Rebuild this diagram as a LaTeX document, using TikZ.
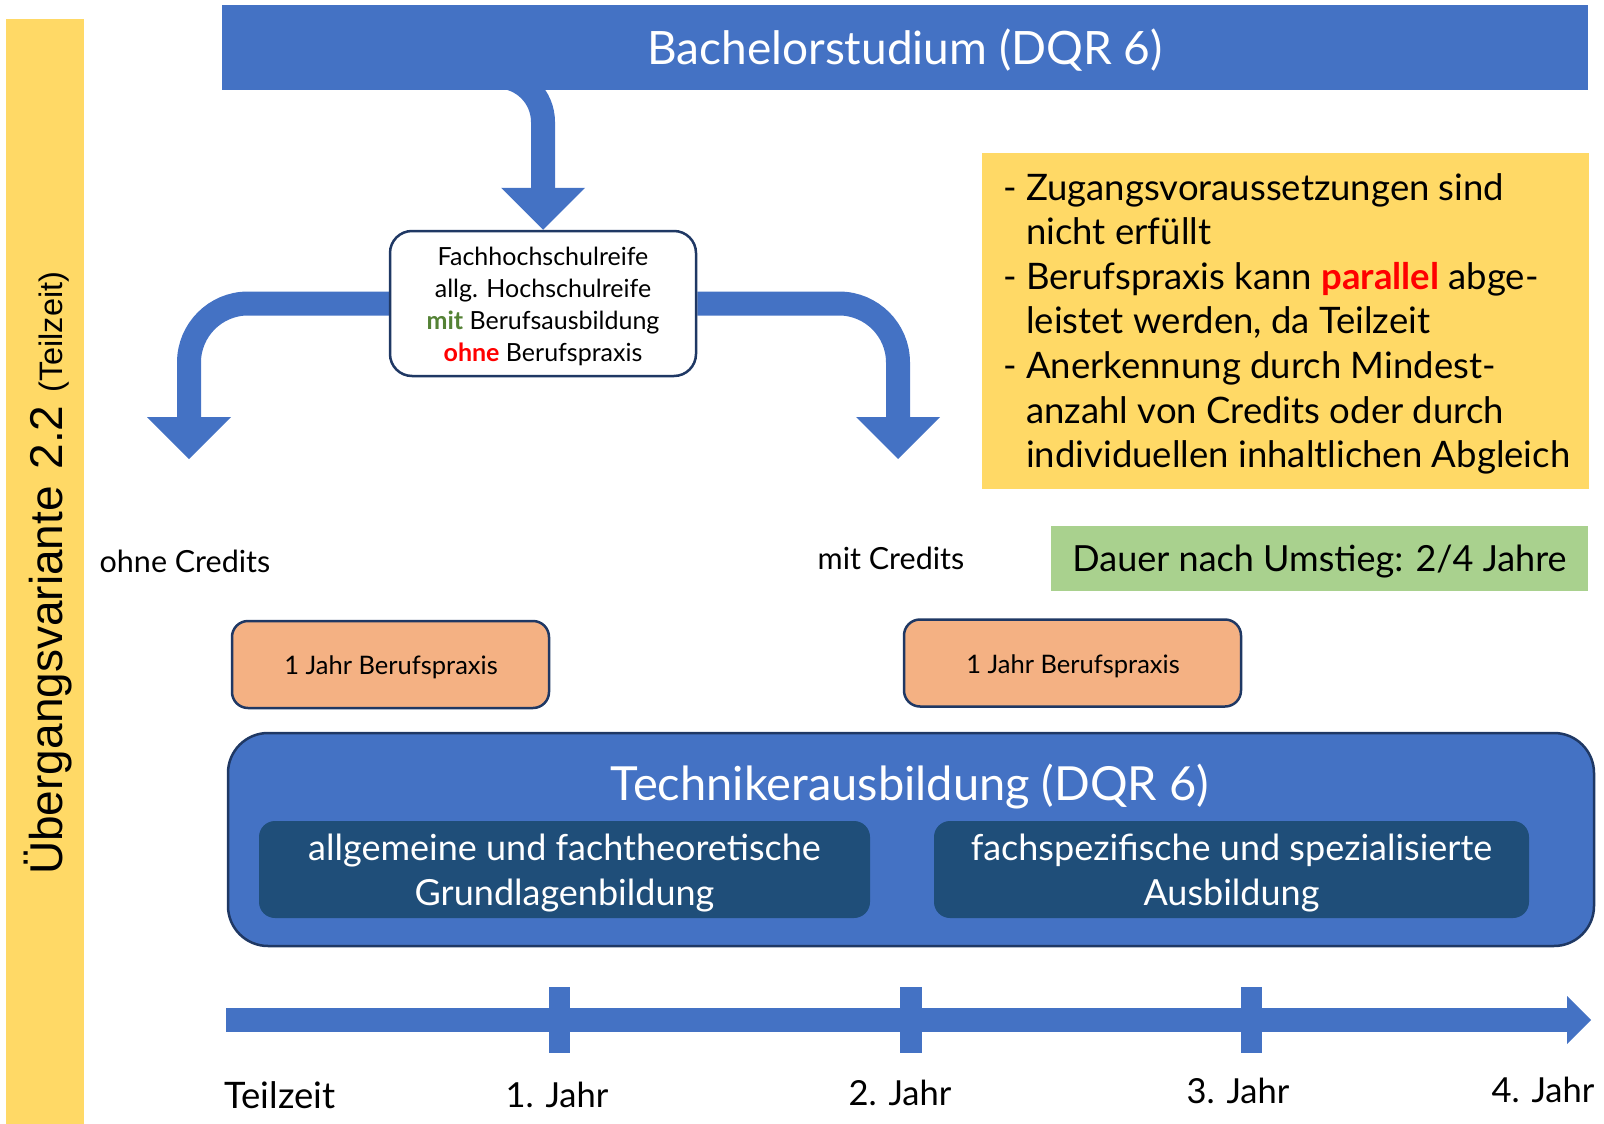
\documentclass[tikz,border=0pt]{standalone}
\usepackage{fontspec}
\setmainfont{Lato}
\newfontfamily\arialf{Liberation Sans}
\usetikzlibrary{calc}
\pgfdeclarelayer{bg}
\pgfsetlayers{bg,main}
\definecolor{obl}{HTML}{4472C4}
\definecolor{oyel}{HTML}{FFD966}
\definecolor{ogrn}{HTML}{A9D18E}
\definecolor{oorg}{HTML}{F4B183}
\definecolor{odark}{HTML}{1F4E79}
\definecolor{onavy}{HTML}{1F3864}
\definecolor{tgreen}{HTML}{548235}
\definecolor{tred}{HTML}{FF0000}
\newcommand\fs[2]{\fontsize{#1}{#2}\selectfont}
\newcommand\myhead[1]{\fill[obl] ($(#1)+(-42,-42)$) -- ($(#1)+(42,-42)$) -- (#1) -- cycle;}
\begin{document}
\begin{tikzpicture}[x=1pt,y=-1pt,
  band/.style={draw=obl,line width=24pt},
  bluebar/.style={fill=obl,inner sep=0pt,text=white},
  navybox/.style={draw=onavy,line width=2.5pt,inner sep=0pt},
  fhrbox/.style={navybox,fill=white,rounded corners=22pt,minimum width=306pt,minimum height=145pt},
  orangebox/.style={navybox,fill=oorg,rounded corners=16pt,minimum width=#1,minimum height=87pt},
  darkbox/.style={fill=odark,rounded corners=16pt,inner sep=0pt,minimum height=97pt},
  plain/.style={inner sep=0pt},
  year/.style={inner sep=0pt,font=\fs{34.5}{38}},
  tick/.style={fill=obl}
]
\useasboundingbox (0,0) rectangle (1604,1124);

% side bar
\fill[oyel] (6,19) rectangle (84,1124);
\node[plain,rotate=90,anchor=base west,font=\arialf\fs{46}{52}] (variant) at (62.5,875)
  {Übergangsvariante\hspace{4pt} 2.2 {\fs{32.5}{36}(Teilzeit)}};

% coordinates for arrows
\coordinate (tstart) at (440,76.5);
\coordinate (lend) at (189,459);
\coordinate (rend) at (898,459);

% box
\node[fhrbox] (fhr) at (543,303.5) {};
\node[plain,align=center,font=\fs{25}{32}] (fhrtext) at (543,306.5)
  {Fachhochschulreife\\ allg. Hochschulreife\\ {\bfseries\color{tgreen}mit} Berufsausbildung\\ {\bfseries\color{tred}ohne} Berufspraxis};

% arrows (behind)
\begin{pgfonlayer}{bg}
\coordinate (fhrtop) at (fhr.north);
\draw[band,rounded corners=45.5pt] (tstart) -| ($(fhrtop)+(0,-40)$);
\myhead{fhrtop}
\draw[band,rounded corners=59pt] (fhr.west) -| ($(lend)+(0,-40)$);
\myhead{lend}
\draw[band,rounded corners=59pt] (fhr.east) -| ($(rend)+(0,-40)$);
\myhead{rend}
\end{pgfonlayer}

% top bar
\node[bluebar,minimum width=1366pt,minimum height=85pt] (bach) at (905,47.5) {};
\node[plain,text=white,font=\fs{46}{50}] (bachtitle) at (905,50.5) {Bachelorstudium (DQR 6)};

% yellow info box
\fill[oyel] (982,153) rectangle (1589,489);
\node[plain,anchor=north west,align=left,font=\fs{36.5}{44.6}] (info) at (1003,173)
  {\makebox[23pt][l]{-}Zugangsvoraussetzungen sind\\
   \hspace*{23pt}nicht erfüllt\\
   \makebox[23pt][l]{-}Berufspraxis kann {\bfseries\color{tred}parallel} abge-\\
   \hspace*{23pt}leistet werden, da Teilzeit\\
   \makebox[23pt][l]{-}Anerkennung durch Mindest-\\
   \hspace*{23pt}anzahl von Credits oder durch\\
   \hspace*{23pt}individuellen inhaltlichen Abgleich};

% green box
\fill[ogrn] (1051,526) rectangle (1588,591);
\node[plain,font=\fs{36}{40}] (dauer) at (1319.5,561.5) {Dauer nach Umstieg: 2/4 Jahre};

% credits labels
\node[plain,font=\fs{30.5}{34}] (ohne) at (185,561) {ohne Credits};
\node[plain,font=\fs{30.5}{34}] (mit) at (891,558) {mit Credits};

% orange boxes
\node[orangebox=317pt] (bp1) at (390.5,664.5) {};
\node[plain,font=\fs{25.5}{30}] (bp1t) at (391,667.5) {1 Jahr Berufspraxis};
\node[orangebox=337pt] (bp2) at (1072.5,663) {};
\node[plain,font=\fs{25.5}{30}] (bp2t) at (1073,666) {1 Jahr Berufspraxis};

% Technikerausbildung
\node[navybox,fill=obl,rounded corners=40pt,minimum width=1366pt,minimum height=213pt] (tech) at (911,839.5) {};
\node[plain,text=white,font=\fs{47}{50}] (techtitle) at (910,787) {Technikerausbildung (DQR 6)};
\node[darkbox,minimum width=611pt] (grund) at (564.5,869.5) {};
\node[plain,text=white,align=center,font=\fs{36}{45}] (grundt) at (564.5,873.5) {allgemeine und fachtheoretische\\ Grundlagenbildung};
\node[darkbox,minimum width=595pt] (fach) at (1231.5,869.5) {};
\node[plain,text=white,align=center,font=\fs{36}{45}] (facht) at (1231.5,873.5) {fachspezifische und spezialisierte\\ Ausbildung};

% timeline
\coordinate (tl0) at (226,1020);
\coordinate (tl1) at (1567,1020);
\coordinate (tltip) at (1591,1020);
\draw[line width=24pt,obl] (tl0) -- (tl1);
\fill[obl] (1567,996) -- (tltip) -- (1567,1044) -- cycle;
\fill[tick] (549,987) rectangle (570,1053);
\fill[tick] (900,987) rectangle (922,1053);
\fill[tick] (1241,987) rectangle (1262,1053);
\node[year,anchor=west,font=\fs{36.5}{40}] (y0) at (224,1095) {Teilzeit};
\node[year] (y1) at (557,1095) {1. Jahr};
\node[year] (y2) at (900,1093) {2. Jahr};
\node[year] (y3) at (1238,1091) {3. Jahr};
\node[year] (y4) at (1543,1090) {4. Jahr};
\end{tikzpicture}
\end{document}
